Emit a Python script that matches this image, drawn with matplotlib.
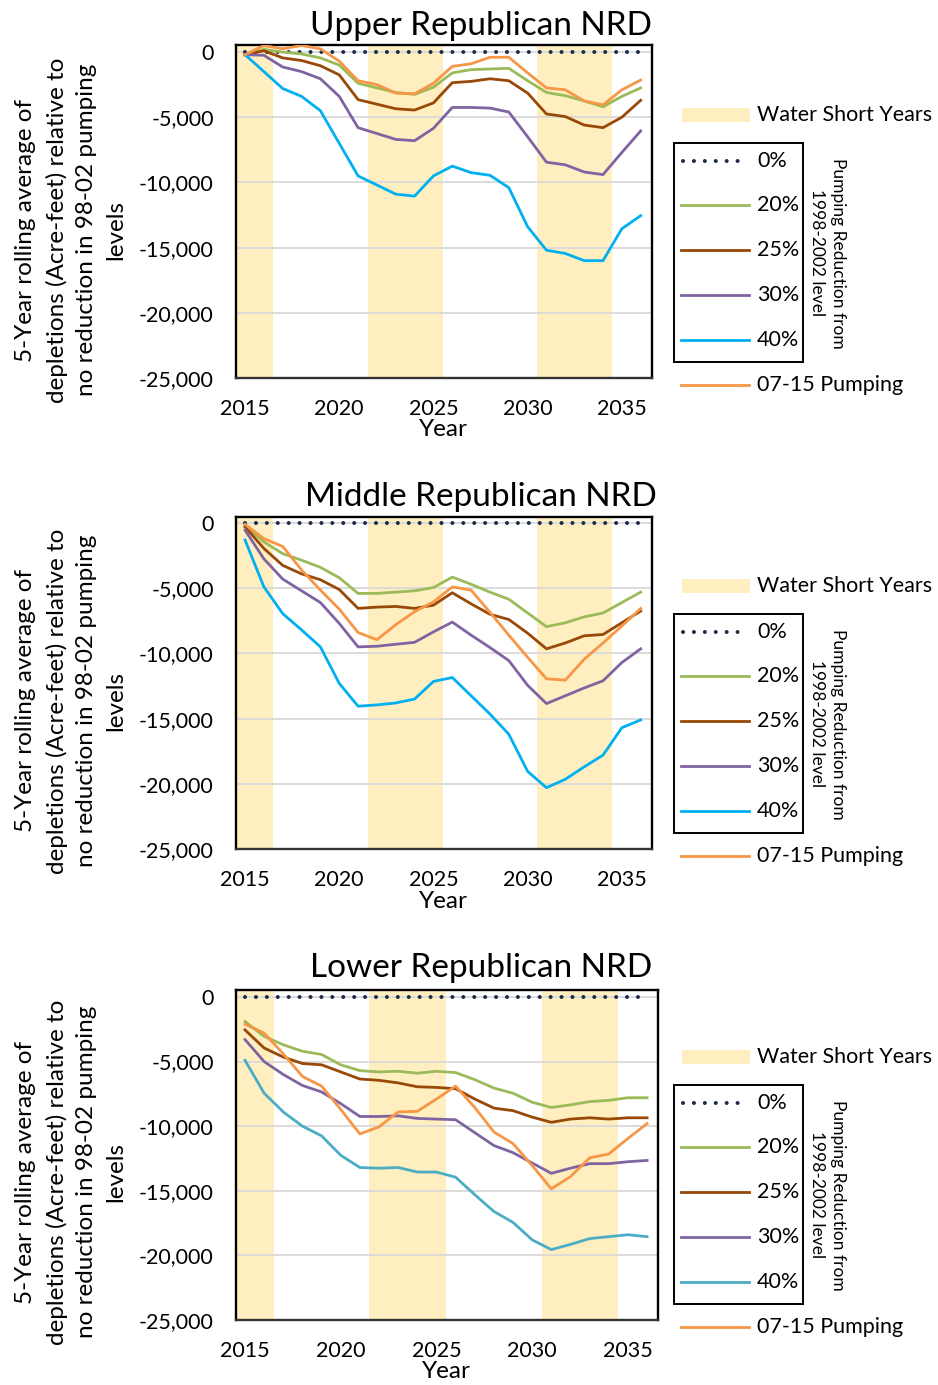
import matplotlib
matplotlib.use("Agg")
import matplotlib.pyplot as plt
from matplotlib.patches import Rectangle
from matplotlib.ticker import FuncFormatter, FixedLocator

plt.rcParams['font.family'] = ['Lato', 'DejaVu Sans']

# ---------------------------------------------------------------- data
years = list(range(2015, 2037))
water_short_years = [2015, 2016, 2022, 2023, 2024, 2025, 2031, 2032, 2033, 2034]
y_ticks = [0, -5000, -10000, -15000, -20000, -25000]
x_ticks = [2015, 2020, 2025, 2030, 2035]

series_labels = ["0%", "20%", "25%", "30%", "40%", "07-15 Pumping"]

upper_0 = [0] * 22
upper_20 = [-200, 200, 0, -150, -450, -1000, -2400, -2750, -3100, -3250, -2700,
            -1600, -1350, -1300, -1250, -2200, -3100, -3350, -3750, -4200, -3400, -2750]
upper_25 = [-200, 100, -450, -650, -1050, -1750, -3650, -4000, -4350, -4450, -3900,
            -2350, -2250, -2050, -2200, -3150, -4750, -4950, -5600, -5800, -5000, -3700]
upper_30 = [-200, -250, -1150, -1500, -2050, -3400, -5800, -6250, -6700, -6800, -5850,
            -4250, -4250, -4300, -4600, -6500, -8450, -8650, -9200, -9400, -7700, -6050]
upper_40 = [-200, -1500, -2800, -3400, -4500, -7000, -9500, -10200, -10900, -11050, -9500,
            -8750, -9250, -9450, -10400, -13400, -15200, -15450, -16000, -16000, -13550, -12550]
upper_0715 = [-200, 500, 250, 500, 250, -700, -2200, -2500, -3150, -3200, -2400,
              -1100, -900, -400, -400, -1600, -2750, -2900, -3750, -4050, -2900, -2150]

middle_0 = [0] * 22
middle_20 = [-200, -1450, -2350, -2850, -3400, -4200, -5400, -5400, -5300, -5200, -4950,
             -4150, -4700, -5300, -5850, -6900, -7950, -7650, -7200, -6900, -6100, -5300]
middle_25 = [-300, -1950, -3250, -3900, -4350, -5100, -6550, -6450, -6400, -6550, -6300,
             -5350, -6200, -7000, -7400, -8450, -9650, -9200, -8650, -8550, -7650, -6750]
middle_30 = [-550, -2750, -4300, -5200, -6100, -7700, -9500, -9450, -9300, -9150, -8350,
             -7600, -8600, -9550, -10550, -12450, -13850, -13250, -12650, -12100, -10700, -9650]
middle_40 = [-1300, -4900, -6950, -8200, -9500, -12300, -14050, -13950, -13800, -13500, -12150,
             -11850, -13250, -14650, -16200, -19050, -20300, -19650, -18700, -17800, -15700, -15100]
middle_0715 = [-100, -1200, -1800, -3600, -5150, -6600, -8400, -8950, -7800, -6800, -6050,
               -4900, -5150, -6850, -8600, -10300, -11950, -12050, -10450, -9200, -7900, -6550]

lower_0 = [0] * 22
lower_20 = [-1900, -3050, -3700, -4200, -4450, -5250, -5700, -5800, -5750, -5900, -5750,
            -5850, -6400, -7050, -7450, -8150, -8550, -8350, -8100, -8000, -7800, -7800]
lower_25 = [-2550, -3950, -4650, -5150, -5250, -5800, -6350, -6450, -6650, -6950, -7000,
            -7100, -7900, -8600, -8800, -9300, -9700, -9450, -9350, -9450, -9350, -9350]
lower_30 = [-3300, -5000, -6000, -6850, -7350, -8250, -9250, -9250, -9200, -9400, -9450,
            -9500, -10500, -11500, -12050, -12850, -13650, -13250, -12900, -12900, -12750, -12650]
lower_40 = [-4900, -7450, -8900, -10000, -10750, -12250, -13200, -13250, -13200, -13550, -13550,
            -13950, -15300, -16600, -17450, -18800, -19550, -19150, -18700, -18550, -18400, -18550]
lower_0715 = [-2100, -2800, -4400, -6150, -6900, -8700, -10600, -10050, -8900, -8850, -7900,
              -6900, -8550, -10450, -11350, -13050, -14850, -13900, -12450, -12150, -10950, -9800]

# ---------------------------------------------------------------- styles
W, H = 938, 1385
DOT = "#1C2B4A"
GREEN = "#9BBB59"
BROWN = "#984807"
PURPLE = "#8064A2"
BLUE = "#00B0F0"
TEAL = "#4BACC6"
ORANGE = "#F79646"
SHADE = "#FFEFC0"
GRID = "#D9D9D9"
FS = 15.5
FS_LABEL = 17.5

panels = [
    dict(title="Upper Republican NRD",
         data=[upper_0, upper_20, upper_25, upper_30, upper_40, upper_0715],
         blue=BLUE, box=(236, 652, 45, 378), top=540, xlim=(2014.52, 2036.6), dy=0,
         xlab=443),
    dict(title="Middle Republican NRD",
         data=[middle_0, middle_20, middle_25, middle_30, middle_40, middle_0715],
         blue=BLUE, box=(236, 652, 517, 849), top=460, xlim=(2014.52, 2036.6), dy=471,
         xlab=443),
    dict(title="Lower Republican NRD",
         data=[lower_0, lower_20, lower_25, lower_30, lower_40, lower_0715],
         blue=TEAL, box=(236, 658, 990, 1320), top=540, xlim=(2014.53, 2036.57), dy=942,
         xlab=446),
]

fig = plt.figure(figsize=(W / 100, H / 100), dpi=100)


def rect(l, r, t, b):
    return [l / W, 1 - b / H, (r - l) / W, (b - t) / H]


def runs(yrs):
    """Group consecutive years into (start, end) spans."""
    out = []
    for y in sorted(yrs):
        if out and y == out[-1][1] + 1:
            out[-1][1] = y
        else:
            out.append([y, y])
    return out


dotted = (0, (0.01, 2.7))
DOT_LW = 2.9
LW = 2.0

for p in panels:
    l, r, t, b = p["box"]
    dy = p["dy"]
    ax = fig.add_axes(rect(l, r, t, b))
    ax.set_xlim(*p["xlim"])
    ax.set_ylim(-25000, p["top"])

    for s, e in runs(water_short_years):
        ax.axvspan(s - 0.5, e + 0.5, color=SHADE, lw=0, zorder=0)

    for yv in y_ticks:
        ax.axhline(yv, color=GRID, lw=1.3, zorder=1)

    d0, d20, d25, d30, d40, d0715 = p["data"]
    ax.plot(years, d0, color=DOT, lw=DOT_LW, linestyle=dotted,
            dash_capstyle="round", zorder=3)
    ax.plot(years, d20, color=GREEN, lw=LW, zorder=3)
    ax.plot(years, d25, color=BROWN, lw=LW, zorder=3)
    ax.plot(years, d30, color=PURPLE, lw=LW, zorder=3)
    ax.plot(years, d40, color=p["blue"], lw=LW, zorder=3)
    ax.plot(years, d0715, color=ORANGE, lw=LW, zorder=4)

    ax.yaxis.set_major_locator(FixedLocator(y_ticks))
    ax.yaxis.set_major_formatter(FuncFormatter(lambda v, _: f"{v:,.0f}"))
    ax.xaxis.set_major_locator(FixedLocator(x_ticks))
    ax.tick_params(axis="both", length=0, labelsize=FS, colors="black")
    ax.tick_params(axis="y", pad=16)
    ax.tick_params(axis="x", pad=15)
    for sp in ax.spines.values():
        sp.set_color("black")
        sp.set_linewidth(1.7)
    ax.spines["bottom"].set_color("#333333")

    fig.text(p["xlab"] / W, 1 - (430 + dy) / H, "Year", ha="center", va="center",
             fontsize=FS_LABEL)
    fig.text(71 / W, 1 - (230 + dy) / H,
             "5-Year rolling average of\ndepletions (Acre-feet) relative to\n"
             "no reduction in 98-02 pumping\nlevels",
             rotation=90, ha="center", va="center", multialignment="center",
             fontsize=FS_LABEL, linespacing=1.5)

    fig.text(481 / W, 1 - (35 + dy) / H, p["title"], ha="center", va="baseline",
             fontsize=24)

# ---------------------------------------------------------------- legends
ov = fig.add_axes([0, 0, 1, 1], zorder=10)
ov.set_xlim(0, W)
ov.set_ylim(H, 0)
ov.axis("off")

for p in panels:
    dy = p["dy"]
    ov.add_patch(Rectangle((682, 108 + dy), 68, 14, facecolor=SHADE, lw=0))
    ov.text(757, 115 + dy, "Water Short Years", va="center", ha="left", fontsize=FS)
    ov.add_patch(Rectangle((674, 143 + dy), 129, 219, facecolor="none",
                           edgecolor="black", lw=1.4))
    colors = [DOT, GREEN, BROWN, PURPLE, p["blue"], ORANGE]
    ys = [160.7, 205, 250, 295, 340, 385]
    for lab, c, yy in zip(series_labels, colors, ys):
        if lab == "0%":
            ov.plot([683, 748], [yy + dy, yy + dy], color=c, lw=DOT_LW, linestyle=dotted,
                    dash_capstyle="round")
        else:
            ov.plot([681, 749], [yy + dy, yy + dy], color=c, lw=LW)
        ov.text(757, yy + dy, lab, va="center", ha="left", fontsize=FS)
    ov.text(838, 253 + dy, "Pumping Reduction from", rotation=-90, ha="center",
            va="center", fontsize=12.5)
    ov.text(817, 253 + dy, "1998-2002 level", rotation=-90, ha="center",
            va="center", fontsize=12.5)

fig.savefig("out.png", dpi=100)
